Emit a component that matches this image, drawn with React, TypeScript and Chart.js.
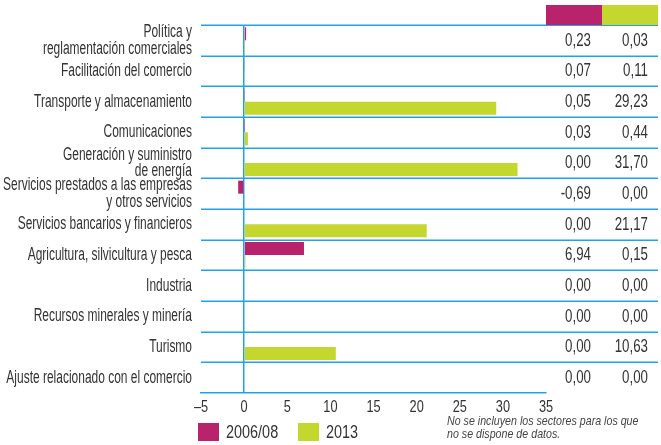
import React, { useEffect, useRef } from "react";
import { Chart, registerables } from "chart.js";

Chart.register(...registerables);

const categories: (string | string[])[] = [
  ["Política y", "reglamentación comerciales"],
  "Facilitación del comercio",
  "Transporte y almacenamiento",
  "Comunicaciones",
  ["Generación y suministro", "de energía"],
  ["Servicios prestados a las empresas", "y otros servicios"],
  "Servicios bancarios y financieros",
  "Agricultura, silvicultura y pesca",
  "Industria",
  "Recursos minerales y minería",
  "Turismo",
  "Ajuste relacionado con el comercio",
];

const values2006: number[] = [0.23, 0.07, 0.05, 0.03, 0.0, -0.69, 0.0, 6.94, 0.0, 0.0, 0.0, 0.0];
const values2013: number[] = [0.03, 0.11, 29.23, 0.44, 31.7, 0.0, 21.17, 0.15, 0.0, 0.0, 10.63, 0.0];

const seriesLabels = ["2006/08", "2013"];
const noteLines = ["No se incluyen los sectores para los que", "no se dispone de datos."];

const X_MIN = -5;
const X_MAX = 35;
const X_STEP = 5;

const MAGENTA = "#b8236b";
const GREEN = "#c3d72f";
const BLUE = "#1fa3e6";
const TEXT = "#333333";
const FONT = "'Liberation Sans', Arial, sans-serif";

const fmt = (v: number) => v.toFixed(2).replace(".", ",");
const fmtTick = (v: number) => (v < 0 ? "\u2013" + Math.abs(v) : String(v));

function drawText(
  ctx: CanvasRenderingContext2D,
  text: string,
  x: number,
  y: number,
  align: CanvasTextAlign,
  size: number,
  sx: number,
  color: string,
  style = ""
) {
  ctx.save();
  ctx.font = `${style} ${size}px ${FONT}`;
  ctx.fillStyle = color;
  ctx.textAlign = align;
  ctx.textBaseline = "middle";
  ctx.translate(x, y);
  ctx.scale(sx, 1);
  ctx.fillText(text, 0, 0);
  ctx.restore();
}

const tablePlugin = {
  id: "tablePlugin",
  afterDraw(chart: any) {
    const { ctx, chartArea, scales } = chart;
    const yScale = scales.y;
    const xScale = scales.x;
    const n = categories.length;
    const top = chartArea.top;
    const h = (chartArea.bottom - chartArea.top) / n;
    const rightEdge = chart.width - 3;
    ctx.save();
    // row lines
    ctx.strokeStyle = BLUE;
    ctx.lineWidth = 1.5;
    for (let i = 0; i < n; i++) {
      const y = Math.round(top + i * h) + 0.25;
      ctx.beginPath();
      ctx.moveTo(chartArea.left, y);
      ctx.lineTo(rightEdge, y);
      ctx.stroke();
    }
    // header colour boxes
    const boxW = (rightEdge - chartArea.right) / 2;
    ctx.fillStyle = MAGENTA;
    ctx.fillRect(chartArea.right, 5, boxW, top - 5);
    ctx.fillStyle = GREEN;
    ctx.fillRect(chartArea.right + boxW, 5, boxW, top - 5);
    ctx.restore();

    // category labels (condensed)
    const lh = 16.5;
    for (let i = 0; i < n; i++) {
      const lab = categories[i];
      const lines = Array.isArray(lab) ? lab : [lab];
      const cy = yScale.getPixelForValue(i);
      const y0 = cy - ((lines.length - 1) * lh) / 2;
      lines.forEach((t, k) => drawText(ctx, t, chartArea.left - 9, y0 + k * lh, "right", 18, 0.665, TEXT));
    }

    // table values
    for (let i = 0; i < n; i++) {
      const cy = yScale.getPixelForValue(i);
      drawText(ctx, fmt(values2006[i]), chartArea.right + boxW - 11, cy, "right", 19, 0.7, TEXT);
      drawText(ctx, fmt(values2013[i]), rightEdge - 10, cy, "right", 19, 0.7, TEXT);
    }

    // x tick labels
    for (const t of xScale.ticks) {
      const x = xScale.getPixelForValue(t.value);
      drawText(ctx, fmtTick(t.value), x, chartArea.bottom + 14, "center", 17, 0.75, TEXT);
    }

    // legend
    const ly = 423;
    const items = [
      { c: MAGENTA, t: seriesLabels[0], x: 198 },
      { c: GREEN, t: seriesLabels[1], x: 298 },
    ];
    for (const it of items) {
      ctx.fillStyle = it.c;
      ctx.fillRect(it.x, ly, 21, 18);
      drawText(ctx, it.t, it.x + 28, ly + 10, "left", 18.5, 0.78, TEXT);
    }

    // note
    noteLines.forEach((t, i) => drawText(ctx, t, 447, 421 + i * 13, "left", 13.5, 0.79, "#444444", "italic"));
  },
};

export default function App() {
  const ref = useRef<HTMLCanvasElement | null>(null);
  useEffect(() => {
    if (!ref.current) return;
    const chart = new Chart(ref.current, {
      type: "bar",
      data: {
        labels: categories as any,
        datasets: [
          {
            label: seriesLabels[0],
            data: values2006,
            backgroundColor: MAGENTA,
            categoryPercentage: 0.85,
            barPercentage: 1.0,
          },
          {
            label: seriesLabels[1],
            data: values2013,
            backgroundColor: GREEN,
            categoryPercentage: 0.85,
            barPercentage: 1.0,
          },
        ],
      },
      options: {
        indexAxis: "y",
        animation: false,
        responsive: false,
        maintainAspectRatio: false,
        layout: { padding: { top: 25, right: 115, bottom: 0, left: 0 } },
        plugins: { legend: { display: false }, tooltip: { enabled: false } },
        scales: {
          x: {
            min: X_MIN,
            max: X_MAX,
            ticks: { stepSize: X_STEP, display: false },
            grid: {
              drawTicks: false,
              lineWidth: 1.5,
              color: (c: any) => (c.tick && c.tick.value === 0 ? BLUE : "rgba(0,0,0,0)"),
            },
            border: { display: true, color: BLUE, width: 1.5 },
            afterFit: (s: any) => {
              s.height = 52;
            },
          },
          y: {
            ticks: { display: false, autoSkip: false },
            grid: { display: false },
            border: { display: false },
            afterFit: (s: any) => {
              s.width = 201;
            },
          },
        },
      },
      plugins: [tablePlugin],
    });
    return () => chart.destroy();
  }, []);
  return (
    <div style={{ position: "absolute", left: 0, top: 0, width: 661, height: 445, background: "#fff" }}>
      <canvas ref={ref} width={661} height={445} />
    </div>
  );
}
